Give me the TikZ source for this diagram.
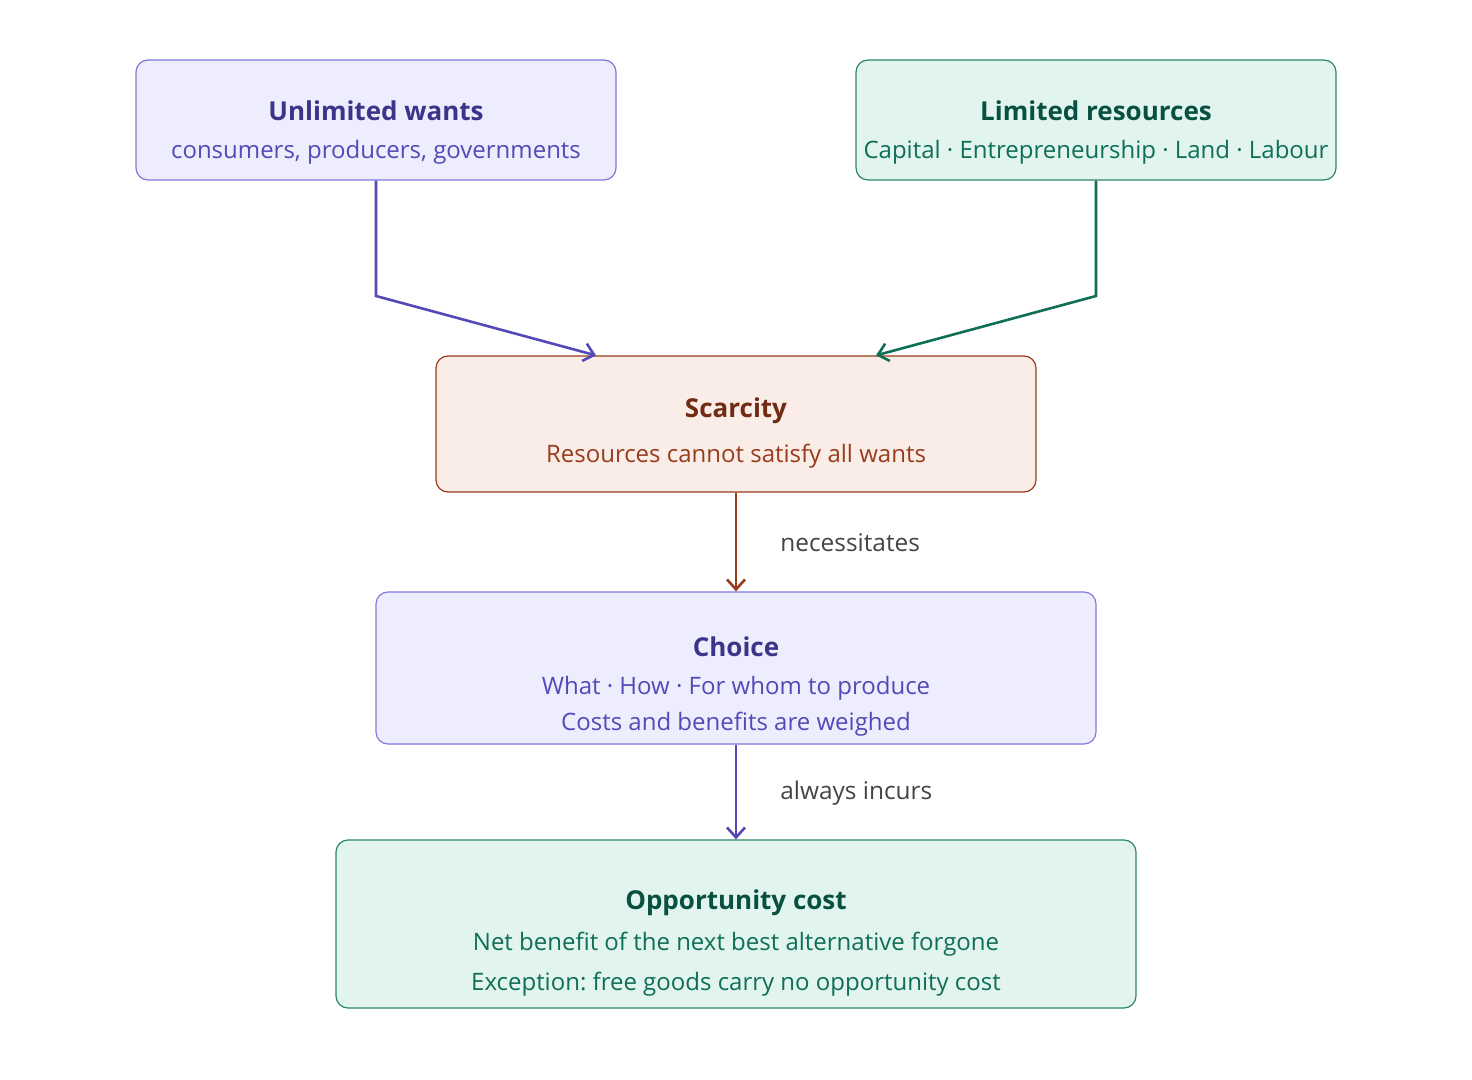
\documentclass[tikz,border=0pt]{standalone}
\usepackage{fontspec}
\setmainfont{Open Sans}
\usepackage{xcolor}
\usetikzlibrary{arrows.meta,positioning}
\frenchspacing
\definecolor{purpfill}{HTML}{EEEDFE}
\definecolor{purpdraw}{HTML}{7F77DD}
\definecolor{purptitle}{HTML}{3C3489}
\definecolor{purptext}{HTML}{534AB7}
\definecolor{greenfill}{HTML}{E1F5EE}
\definecolor{greendraw}{HTML}{2E8466}
\definecolor{greentitle}{HTML}{085041}
\definecolor{greentext}{HTML}{0F6E56}
\definecolor{redfill}{HTML}{FAECE7}
\definecolor{reddraw}{HTML}{993C1D}
\definecolor{redtitle}{HTML}{712B13}
\definecolor{redtext}{HTML}{993C1D}
\definecolor{labelgray}{HTML}{444441}

\begin{document}
\begin{tikzpicture}[
    x=0.5pt, y=-0.5pt,
    box/.style={rectangle, draw=#1draw, fill=#1fill, rounded corners=6pt, line width=0.6pt},
    title/.style={font=\fontsize{13}{15}\selectfont\bfseries, text=#1title, anchor=center, yshift=-1.5pt},
    sub/.style={font=\fontsize{12}{14}\selectfont, text=#1text, anchor=center, yshift=-1.5pt},
    arrow/.style={-{Straight Barb[length=5pt, width=9pt]}, line width=1.3pt, draw=#1text},
    edgelabel/.style={font=\fontsize{12.2}{14}\selectfont, text=labelgray, anchor=west, inner sep=0pt},
]
    \useasboundingbox (0,0) rectangle (1472,1080);

    % Causes
    \node[box=purp, minimum width=240pt, minimum height=60pt] (wants) at (376,120) {};
    \node[title=purp] (wantstitle) at (376,108) {Unlimited wants};
    \node[sub=purp] (wantssub) at (376,149) {consumers, producers, governments};

    \node[box=green, minimum width=240pt, minimum height=60pt] (res) at (1096,120) {};
    \node[title=green] (restitle) at (1096,108) {Limited resources};
    \node[sub=green] (ressub) at (1096,149) {Capital · Entrepreneurship · Land · Labour};

    % Central problem
    \node[box=red, minimum width=300pt, minimum height=68pt] (scar) at (736,424) {};
    \node[title=red] (scartitle) at (736,408) {Scarcity};
    \node[sub=red] (scarsub) at (736,453) {Resources cannot satisfy all wants};

    \node[box=purp, minimum width=360pt, minimum height=76pt] (choice) at (736,668) {};
    \node[title=purp] (choicetitle) at (736,644) {Choice};
    \node[sub=purp] (choicesub) at (736,685) {What · How · For whom to produce};
    \node[sub=purp] (choicesubb) at (736,721) {Costs and benefits are weighed};

    \node[box=green, minimum width=400pt, minimum height=84pt] (opp) at (736,924) {};
    \node[title=green] (opptitle) at (736,900) {Opportunity cost};
    \node[sub=green] (oppsub) at (736,941) {Net benefit of the next best alternative forgone};
    \node[sub=green] (oppsubb) at (736,981) {Exception: free goods carry no opportunity cost};

    % Connectors
    \coordinate (wbend) at (376,296);
    \coordinate (rbend) at (1096,296);
    \draw[arrow=purp] (wants.south) -- (wbend) -- ([xshift=-70pt]scar.north);
    \draw[arrow=green] (res.south) -- (rbend) -- ([xshift=70pt]scar.north);
    \draw[arrow=red] (scar.south) -- (choice.north);
    \draw[arrow=purp] (choice.south) -- (opp.north);

    \node[edgelabel] (necess) at (780,543) {necessitates};
    \node[edgelabel] (incurs) at (780,793) {always incurs};
\end{tikzpicture}
\end{document}
